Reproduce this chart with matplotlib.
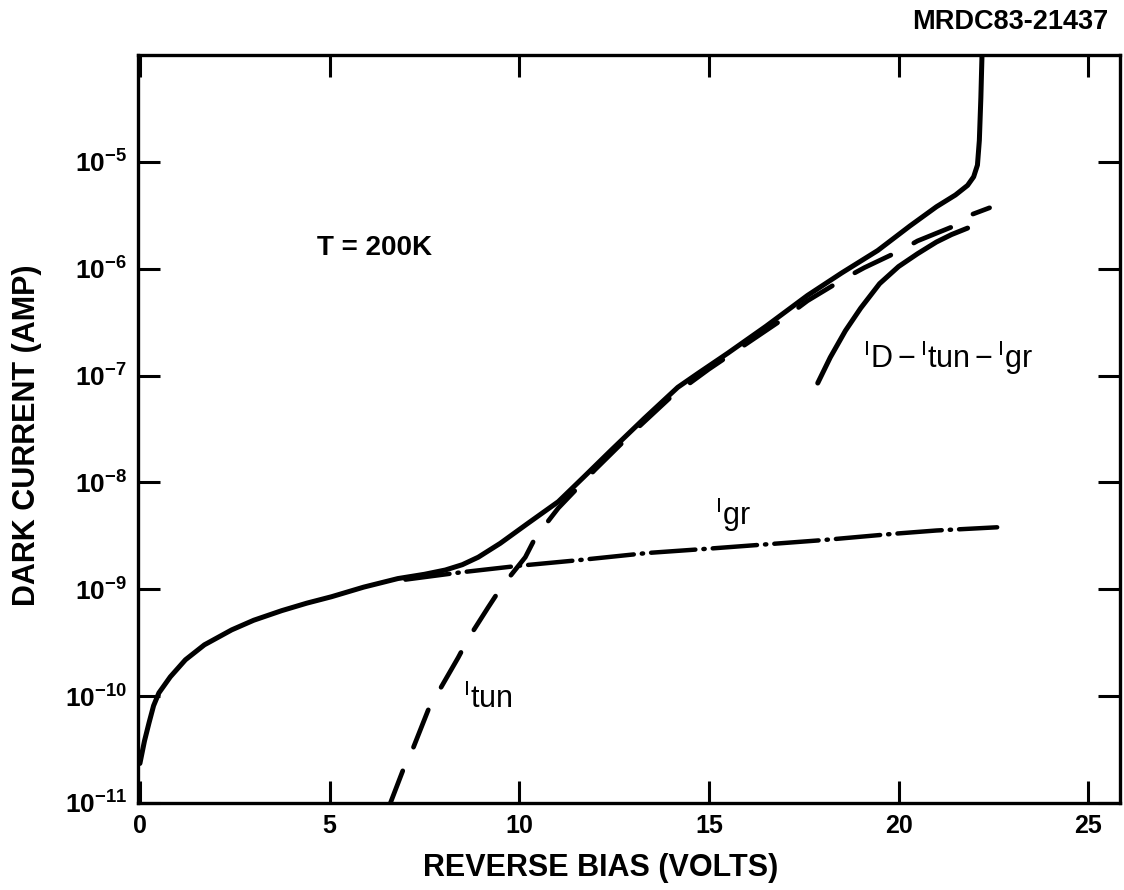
import numpy as np
import matplotlib
matplotlib.use("Agg")
import matplotlib.pyplot as plt

plt.rcParams['font.family'] = ['Liberation Sans', 'DejaVu Sans']
plt.rcParams['mathtext.fontset'] = 'custom'
plt.rcParams['mathtext.rm'] = 'Liberation Sans'
plt.rcParams['mathtext.it'] = 'Liberation Sans'
plt.rcParams['mathtext.bf'] = 'Liberation Sans:bold'

# dark current I_D (log10 amp) vs reverse bias
vd = [0.0, 0.12, 0.24, 0.36, 0.5, 0.8, 1.2, 1.7, 2.42, 3.0, 3.74, 4.4, 5.05, 5.9,
      6.8, 7.5, 8.05, 8.5, 8.92, 9.5, 10.24, 11.03, 11.7, 12.42, 13.3, 14.18,
      14.71, 15.5, 16.5, 17.6, 18.5, 19.45, 20.3, 21.0, 21.5, 21.82, 21.98,
      22.08, 22.13, 22.17, 22.2, 22.24]
log_id = [-10.63, -10.42, -10.25, -10.09, -9.97, -9.82, -9.66, -9.52, -9.38,
          -9.29, -9.2, -9.13, -9.07, -8.98, -8.9, -8.86, -8.82, -8.77, -8.7,
          -8.57, -8.38, -8.18, -7.95, -7.7, -7.4, -7.11, -6.98, -6.79, -6.54,
          -6.25, -6.04, -5.83, -5.6, -5.42, -5.31, -5.22, -5.14, -5.03, -4.8,
          -4.4, -4.0, -3.9]

# tunneling current
vt = [6.55, 6.95, 7.21, 7.6, 7.87, 8.39, 8.66, 9.18, 9.53, 10.16, 10.42, 11.03,
      12.0, 13.0, 14.0, 15.0, 16.0, 17.0, 17.6, 18.58, 19.1, 20.05, 20.5, 21.47,
      21.95, 22.4]
log_tun = [-11.05, -10.68, -10.48, -10.13, -9.96, -9.64, -9.46, -9.17, -8.98,
           -8.7, -8.52, -8.24, -7.88, -7.53, -7.2, -6.94, -6.7, -6.46, -6.3,
           -6.09, -5.99, -5.83, -5.74, -5.6, -5.49, -5.43]

# generation-recombination current
vg = [7.0, 8.5, 10.0, 11.5, 13.4, 15.0, 16.5, 18.0, 19.9, 21.0, 22.6]
log_gr = [-8.91, -8.84, -8.78, -8.73, -8.66, -8.62, -8.58, -8.54, -8.48, -8.45, -8.42]

# I_D - I_tun - I_gr
vr = [17.87, 18.2, 18.6, 19.0, 19.5, 20.0, 20.5, 21.0, 21.4, 21.82]
log_rest = [-7.07, -6.83, -6.58, -6.37, -6.14, -5.98, -5.86, -5.75, -5.68, -5.62]

xticks = [0, 5, 10, 15, 20, 25]
yexp = [-11, -10, -9, -8, -7, -6, -5]

fig = plt.figure(figsize=(11.24, 8.9), dpi=100)
ax = fig.add_axes([0.1228, 0.0978, 0.8737, 0.8404])

ax.semilogy(vd, 10.0 ** np.array(log_id), color='k', lw=3.6, solid_capstyle='round')
ax.semilogy(vt, 10.0 ** np.array(log_tun), color='k', lw=3.4,
            dashes=(8.5, 5.5), dash_capstyle='round')
ax.semilogy(vg, 10.0 ** np.array(log_gr), color='k', lw=3.2,
            dashes=(10, 1.8, 0.3, 1.8), dash_capstyle='round')
ax.semilogy(vr, 10.0 ** np.array(log_rest), color='k', lw=3.6, solid_capstyle='round')

ax.set_xlim(-0.05, 25.84)
ax.set_ylim(1e-11, 1e-4)
ax.set_xticks(xticks)
ax.set_xticklabels([str(t) for t in xticks], fontsize=18, fontweight='bold')
ax.set_yticks([10.0 ** e for e in yexp])
ax.set_yticklabels([r'$\mathbf{10^{%d}}$' % e for e in yexp], fontsize=19)
ax.yaxis.set_minor_locator(matplotlib.ticker.NullLocator())
ax.tick_params(which='major', direction='in', length=16, width=2.2,
               top=True, right=True, pad=8)
for s in ax.spines.values():
    s.set_linewidth(2.4)

# axis titles (set off-centre like the original)
fig.text(0.5347, 0.0247, 'REVERSE BIAS (VOLTS)', ha='center', va='center',
         fontsize=22, fontweight='bold')
fig.text(0.024, 0.511, 'DARK CURRENT (AMP)', ha='center', va='center',
         rotation=90, fontsize=22, fontweight='bold')

ax.text(4.67, 10 ** -5.81, 'T = 200K', fontsize=20, fontweight='bold', va='center')
ax.text(8.53, 10 ** -10.11, r'$\mathregular{{}^{I}tun}$', fontsize=22, va='baseline')
ax.text(15.16, 10 ** -8.40, r'$\mathregular{{}^{I}gr}$', fontsize=22, va='baseline')
ax.text(19.07, 10 ** -6.93, r'$\mathregular{{}^{I}D - {}^{I}tun - {}^{I}gr}$',
        fontsize=22, va='baseline')

fig.text(0.986, 0.975, 'MRDC83-21437', ha='right', va='center', fontsize=19.5,
         fontweight='bold')

fig.savefig('out.png', dpi=100)
